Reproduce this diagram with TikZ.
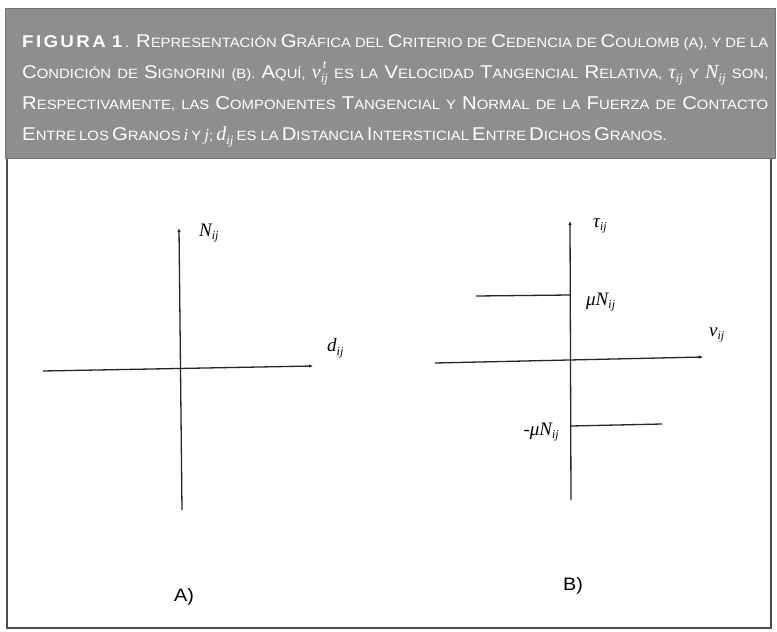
\documentclass[tikz,border=0pt]{standalone}
\usepackage{fontspec}
\setmainfont{Liberation Sans}[FakeStretch=1.1]
\newfontfamily\tms{Liberation Serif}
\usetikzlibrary{arrows.meta}
\definecolor{hdr}{RGB}{142,142,142}
\newcommand\Bg[1]{{\fontsize{18.5}{19}\selectfont #1}}
\newcommand\Sm[1]{{\fontsize{13.5}{14}\selectfont #1}}
\newcommand\W[2]{\Bg{#1}\Sm{#2}}
\newcommand\mi[1]{{\tms\itshape\fontsize{17}{17}\selectfont #1}}
\newcommand\mis[2]{{\tms\itshape\fontsize{20}{20}\selectfont #1\raisebox{-0.45ex}{\fontsize{13}{13}\selectfont #2}}}
\newcommand\Vt{{\tms\itshape\fontsize{20}{20}\selectfont v\rlap{\raisebox{1.0ex}{\fontsize{13}{13}\selectfont \,t}}\raisebox{-0.45ex}{\fontsize{13}{13}\selectfont ij}}}
\newcommand\lab[2]{{\tms\itshape\fontsize{19}{19}\selectfont #1\raisebox{-0.4ex}{\fontsize{12}{12}\selectfont #2}}}
\begin{document}
\begin{tikzpicture}[x=1pt,y=-1pt,
  ax/.style={line width=1.3pt, draw=black!85},
  tipa/.style={-{Latex[length=4pt,width=3.5pt]}},
  lbl/.style={inner sep=0pt},
  hl/.style={anchor=base west, inner sep=0pt, text=white}]
\useasboundingbox (0,0) rectangle (777,632);
\fill[white] (0,0) rectangle (777,632);
% frame
\draw[line width=1.2pt, draw=black!70] (7,158) rectangle (771,628);
\fill[hdr] (5,8) rectangle (775,158);
\draw[line width=1pt, draw=black!55] (5,8) rectangle (775,158);
% header text
\node[hl] (h1) at (22,47) {\makebox[746pt][s]{{\bfseries\fontsize{17}{17}\selectfont\addfontfeature{LetterSpace=14}FIGURA}\hspace{6pt}{\bfseries\fontsize{17}{17}\selectfont 1}\hspace{3pt}\Sm{.} \W{R}{EPRESENTACIÓN} \W{G}{RÁFICA} \Sm{DEL} \W{C}{RITERIO} \Sm{DE} \W{C}{EDENCIA} \Sm{DE} \W{C}{OULOMB} \Sm{(A),} \Sm{Y} \Sm{DE} \Sm{LA}}};
\node[hl] (h2) at (22,78) {\makebox[746pt][s]{\W{C}{ONDICIÓN} \Sm{DE} \W{S}{IGNORINI} \Sm{(B).} \W{A}{QUÍ,} \Vt\ \Sm{ES} \Sm{LA} \W{V}{ELOCIDAD} \W{T}{ANGENCIAL} \W{R}{ELATIVA,} \mis{τ}{ij} \Sm{Y} \mis{N}{ij} \Sm{SON,}}};
\node[hl] (h3) at (22,109) {\makebox[746pt][s]{\W{R}{ESPECTIVAMENTE,} \Sm{LAS} \W{C}{OMPONENTES} \W{T}{ANGENCIAL} \Sm{Y} \W{N}{ORMAL} \Sm{DE} \Sm{LA} \W{F}{UERZA} \Sm{DE} \W{C}{ONTACTO}}};
\node[hl] (h4) at (22,140) {\W{E}{NTRE} \Sm{LOS} \W{G}{RANOS} \mi{i} \Sm{Y} \mi{j}\Sm{;} \mis{d}{ij} \Sm{ES LA} \W{D}{ISTANCIA} \W{I}{NTERSTICIAL} \W{E}{NTRE} \W{D}{ICHOS} \W{G}{RANOS.}};
% diagram A
\coordinate (aT) at (179,228);
\coordinate (aB) at (182,510);
\coordinate (aL) at (43,371);
\coordinate (aR) at (313,366);
\draw[ax,tipa] (aB) -- (aT);
\draw[ax,tipa] (aL) -- (aR);
\node[lbl,anchor=west] (aN) at (199,233) {\lab{N}{ij}};
\node[lbl,anchor=west] (ad) at (327,348) {\lab{d}{ij}};
\node[lbl] (aA) at (184,597) {\fontsize{18}{18}\selectfont A)};
% diagram B
\coordinate (bT) at (570,221);
\coordinate (bB) at (571,500);
\coordinate (bL) at (435,363);
\coordinate (bR) at (703,357);
\coordinate (bU1) at (476,296);
\coordinate (bU2) at (570,295);
\coordinate (bD1) at (571,426);
\coordinate (bD2) at (662,424);
\draw[ax,tipa] (bB) -- (bT);
\draw[ax,tipa] (bL) -- (bR);
\draw[ax] (bU1) -- (bU2);
\draw[ax] (bD1) -- (bD2);
\node[lbl,anchor=west] (bt) at (593,226) {\lab{τ}{ij}};
\node[lbl,anchor=west] (bmu) at (586,302) {\lab{μN}{ij}};
\node[lbl,anchor=west] (bv) at (709,335) {\lab{v}{ij}};
\node[lbl,anchor=east] (bmm) at (559,432) {\lab{-μN}{ij}};
\node[lbl] (bB2) at (573,586) {\fontsize{18}{18}\selectfont B)};
\end{tikzpicture}
\end{document}
